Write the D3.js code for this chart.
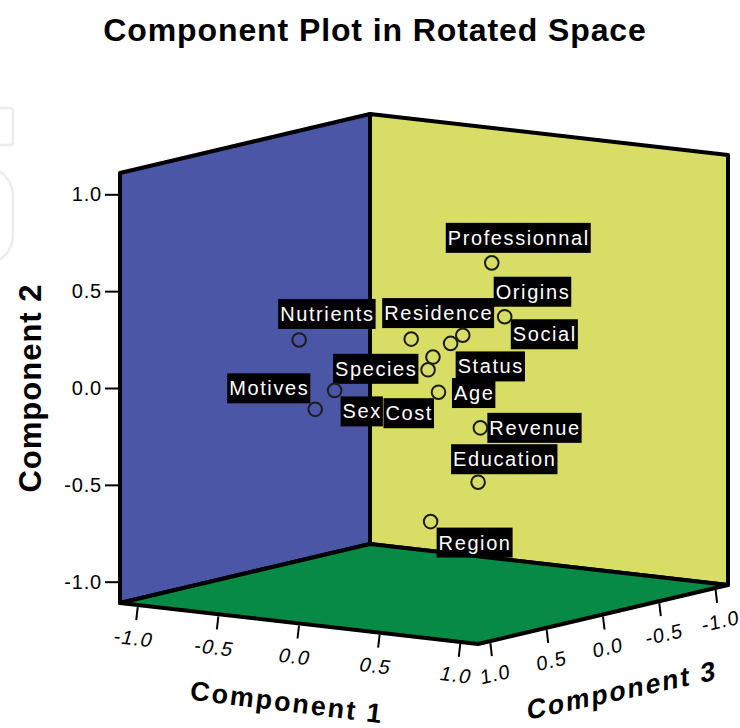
<!DOCTYPE html>
<html>
<head>
<meta charset="utf-8">
<title>Component Plot in Rotated Space</title>
<script src="https://cdn.jsdelivr.net/npm/d3@7/dist/d3.min.js"></script>
<style>
  body { margin: 0; background: #fff; }
  svg { display: block; font-family: "Liberation Sans", Arial, sans-serif; }
</style>
</head>
<body>
<div id="container"></div>
<script>
  // loadings
  const variables = ["Professionnal", "Origins", "Social", "Residence", "Status", "Nutrients", "Species",
    "Age", "Cost", "Motives", "Sex", "Revenue", "Education", "Region"];
  const component1 = [0.49, 0.64, 0.45, 0.20, 0.27, -0.39, 0.06, 0.30, 0.02, -0.50, -0.24, 0.14, 0.51, 0.46];
  const component2 = [0.66, 0.41, 0.31, 0.28, 0.23, 0.24, 0.06, 0.19, -0.08, -0.17, -0.02, -0.28, -0.45, -0.61];
  const component3 = [0.10, 0.20, 0.30, 0.40, 0.15, 0.55, 0.05, 0.35, -0.10, 0.25, 0.45, -0.30, 0.25, 0.60];
  const tickValues = [-1.0, -0.5, 0.0, 0.5, 1.0];

  // label box placement relative to each point (top-left corner of the box)
  const labelOffsets = [[-46, -40], [-11, -40], [48, -16], [-29, -41], [5, 8], [-21, -41], [-95, -16],
    [19, 21], [-55, 6], [-88, -36], [6, 6], [7, -15], [-27, -38], [6, 6]];

  const width = 740;
  const height = 728;
  const extent = 1.11;

  // SPSS writes a plain hyphen for negatives
  const fmt = v => d3.format(".1f")(v).replace("\u2212", "-");

  // oblique projection: each component moves along one edge of the box
  const back = { x: 370, y: 544 };
  const c1x = d3.scaleLinear().domain([-extent, extent]).range([0, 358]);
  const c1y = d3.scaleLinear().domain([-extent, extent]).range([0, 41]);
  const c2y = d3.scaleLinear().domain([-extent, extent]).range([0, -430]);
  const c3x = d3.scaleLinear().domain([-extent, extent]).range([0, -250]);
  const c3y = d3.scaleLinear().domain([-extent, extent]).range([0, 59]);

  const project = (a, b, c) => [back.x + c1x(a) + c3x(c), back.y + c1y(a) + c2y(b) + c3y(c)];

  const svg = d3.select("#container")
    .append("svg")
    .attr("width", width)
    .attr("height", height);

  // faint leftovers at the left edge of the picture
  svg.append("rect").attr("x", -20).attr("y", 108).attr("width", 33).attr("height", 37).attr("rx", 3)
    .attr("fill", "none").attr("stroke", "#ececec").attr("stroke-width", 2.5);
  svg.append("rect").attr("x", -40).attr("y", 168).attr("width", 53).attr("height", 95).attr("rx", 28)
    .attr("fill", "none").attr("stroke", "#ececec").attr("stroke-width", 2.5);

  // title
  svg.append("text")
    .attr("x", 375).attr("y", 41)
    .attr("text-anchor", "middle")
    .attr("font-size", 32).attr("font-weight", "bold")
    .attr("letter-spacing", 0.9)
    .text("Component Plot in Rotated Space");

  // walls and floor
  const e = extent;
  const walls = [
    { fill: "#4b56a6", pts: [project(-e, e, e), project(-e, e, -e), project(-e, -e, -e), project(-e, -e, e)] },
    { fill: "#d8dd66", pts: [project(-e, e, -e), project(e, e, -e), project(e, -e, -e), project(-e, -e, -e)] },
    { fill: "#068a46", pts: [project(-e, -e, e), project(-e, -e, -e), project(e, -e, -e), project(e, -e, e)] }
  ];

  svg.append("g")
    .selectAll("polygon")
    .data(walls)
    .join("polygon")
    .attr("points", d => d.pts.map(p => p.join(",")).join(" "))
    .attr("fill", d => d.fill)
    .attr("stroke", "#000")
    .attr("stroke-width", 4)
    .attr("stroke-linejoin", "round");

  // Component 2 axis on the front-left vertical edge
  const leftX = project(-e, 0, e)[0];
  const yAxisScale = d3.scaleLinear()
    .domain([-e, e])
    .range([project(-e, -e, e)[1], project(-e, e, e)[1]]);

  const yAxis = svg.append("g")
    .attr("transform", `translate(${leftX - 1},0)`)
    .call(d3.axisLeft(yAxisScale).tickValues(tickValues).tickFormat(fmt).tickSize(14).tickPadding(3));
  yAxis.select(".domain").remove();
  yAxis.selectAll("line").attr("stroke", "#000").attr("stroke-width", 2);
  yAxis.selectAll("text")
    .attr("font-size", 20)
    .attr("letter-spacing", 0.8)
    .attr("fill", "#000")
    .attr("font-family", "Liberation Sans, Arial, sans-serif");

  // Component 1 axis along the front-left floor edge
  const axis1 = svg.append("g");
  tickValues.forEach(v => {
    const [x, y] = project(v, -e, e);
    axis1.append("line")
      .attr("x1", x).attr("y1", y + 2).attr("x2", x - 1.5).attr("y2", y + 15)
      .attr("stroke", "#000").attr("stroke-width", 2);
    axis1.append("text")
      .attr("transform", `translate(${x - 4},${y + 33}) rotate(7) skewX(-10)`)
      .attr("text-anchor", "middle")
      .attr("dy", "0.35em")
      .attr("font-size", 20)
      .attr("letter-spacing", 1.2)
      .text(fmt(v));
  });

  // Component 3 axis along the front-right floor edge
  const axis3 = svg.append("g");
  tickValues.forEach(v => {
    const [x, y] = project(e, -e, v);
    axis3.append("line")
      .attr("x1", x).attr("y1", y + 2).attr("x2", x + 1.5).attr("y2", y + 15)
      .attr("stroke", "#000").attr("stroke-width", 2);
    axis3.append("text")
      .attr("transform", `translate(${x + 5},${y + 33}) rotate(-13) skewX(-8)`)
      .attr("text-anchor", "middle")
      .attr("dy", "0.35em")
      .attr("font-size", 20)
      .attr("letter-spacing", 1)
      .text(fmt(v));
  });

  // axis titles
  svg.append("text")
    .attr("transform", "translate(41,388) rotate(-90)")
    .attr("text-anchor", "middle")
    .attr("font-size", 31).attr("font-weight", "bold")
    .attr("letter-spacing", 1)
    .text("Component 2");

  svg.append("text")
    .attr("transform", "translate(287,702) rotate(7)")
    .attr("text-anchor", "middle")
    .attr("dy", "0.35em")
    .attr("font-size", 27).attr("font-weight", "bold")
    .attr("letter-spacing", 2)
    .text("Component 1");

  svg.append("text")
    .attr("transform", "translate(622,690) rotate(-12) skewX(-12)")
    .attr("text-anchor", "middle")
    .attr("dy", "0.35em")
    .attr("font-size", 27).attr("font-weight", "bold")
    .attr("letter-spacing", 2)
    .text("Component 3");

  // points
  const points = variables.map((name, i) => {
    const [x, y] = project(component1[i], component2[i], component3[i]);
    return { name, x, y, off: labelOffsets[i] };
  });

  const labels = svg.append("g")
    .selectAll("g")
    .data(points)
    .join("g")
    .attr("transform", d => `translate(${d.x + d.off[0]},${d.y + d.off[1]})`);

  labels.append("rect").attr("fill", "#000");
  labels.append("text")
    .attr("x", 2).attr("y", 22)
    .attr("font-size", 20)
    .attr("letter-spacing", 1.6)
    .attr("fill", "#fff")
    .text(d => d.name);
  labels.each(function () {
    const g = d3.select(this);
    const w = g.select("text").node().getComputedTextLength();
    g.select("rect").attr("width", w + 3).attr("height", 30);
  });

  svg.append("g")
    .selectAll("circle")
    .data(points)
    .join("circle")
    .attr("cx", d => d.x)
    .attr("cy", d => d.y)
    .attr("r", 6.8)
    .attr("fill", "none")
    .attr("stroke", "#1c1c1c")
    .attr("stroke-width", 2);
</script>
</body>
</html>
